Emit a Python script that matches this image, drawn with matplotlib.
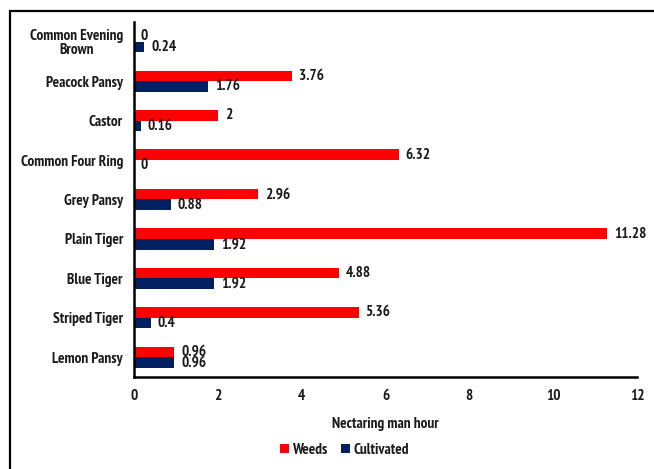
import matplotlib
matplotlib.use("Agg")
import matplotlib.pyplot as plt
import numpy as np
from matplotlib.patches import Rectangle
from matplotlib import font_manager as fm

# Prefer a narrow sans face for all text
available = {f.name for f in fm.fontManager.ttflist}
family = next((n for n in ["Liberation Sans Narrow", "Arial Narrow", "PT Sans Narrow",
                           "Archivo Narrow", "Liberation Sans"] if n in available), "DejaVu Sans")
plt.rcParams['font.family'] = [family, 'DejaVu Sans']
plt.rcParams['font.weight'] = 'bold'

species = ["Lemon Pansy", "Striped Tiger", "Blue Tiger", "Plain Tiger", "Grey Pansy",
           "Common Four Ring", "Castor", "Peacock Pansy", "Common Evening\nBrown"]
weeds = [0.96, 5.36, 4.88, 11.28, 2.96, 6.32, 2, 3.76, 0]
cultivated = [0.96, 0.4, 1.92, 1.92, 0.88, 0, 0.16, 1.76, 0.24]
xticks = [0, 2, 4, 6, 8, 10, 12]

red = "#FF0000"
navy = "#002060"
ink = "#1a1a1a"
fs = 11

fig = plt.figure(figsize=(6.54, 4.69), dpi=100)
ax = fig.add_axes([0.2049, 0.1962, 0.7691, 0.7569])

y = np.arange(len(species))
h = 0.27
b1 = ax.barh(y + h / 2, weeds, height=h, color=red, label="Weeds")
b2 = ax.barh(y - h / 2, cultivated, height=h, color=navy, label="Cultivated")

for bars, vals in ((b1, weeds), (b2, cultivated)):
    for bar, v in zip(bars, vals):
        ax.annotate(f"{v:g}", (v, bar.get_y() + bar.get_height() / 2),
                    xytext=(5, 0), textcoords="offset points",
                    va="center", ha="left", fontsize=fs, fontweight="bold", color=ink)

ax.set_xlim(0, 12)
ax.set_ylim(-0.5, len(species) - 0.5)
ax.set_xticks(xticks)
ax.set_xticklabels([str(t) for t in xticks])
ax.set_yticks(y)
ax.set_yticklabels(species, multialignment="center", linespacing=1.0)
ax.tick_params(axis="both", length=0, labelsize=fs)
ax.tick_params(axis="y", pad=8)
ax.tick_params(axis="x", pad=9)
for lab in ax.get_xticklabels() + ax.get_yticklabels():
    lab.set_fontweight("bold")
    lab.set_color(ink)

for s in ("top", "right"):
    ax.spines[s].set_visible(False)
for s in ("left", "bottom"):
    ax.spines[s].set_linewidth(1.8)
    ax.spines[s].set_color("black")

ax.set_xlabel("Nectaring man hour", fontsize=fs, fontweight="bold", labelpad=10, color=ink)

leg = fig.legend(handles=[b1, b2], labels=["Weeds", "Cultivated"], loc="center",
                 bbox_to_anchor=(0.527, 0.04), ncol=2, frameon=False, fontsize=fs,
                 handlelength=0.55, handleheight=0.55, handletextpad=0.25, columnspacing=0.9)
for t in leg.get_texts():
    t.set_fontweight("bold")
    t.set_color(ink)

# Outer frame; its right and bottom sides run past the canvas edge
fig.patches.append(Rectangle((9.5 / 654, -0.05), 1.2, (458 / 469) + 0.05,
                             transform=fig.transFigure, fill=False,
                             edgecolor="black", linewidth=1.6, clip_on=False))

fig.savefig("out.png", dpi=100)
